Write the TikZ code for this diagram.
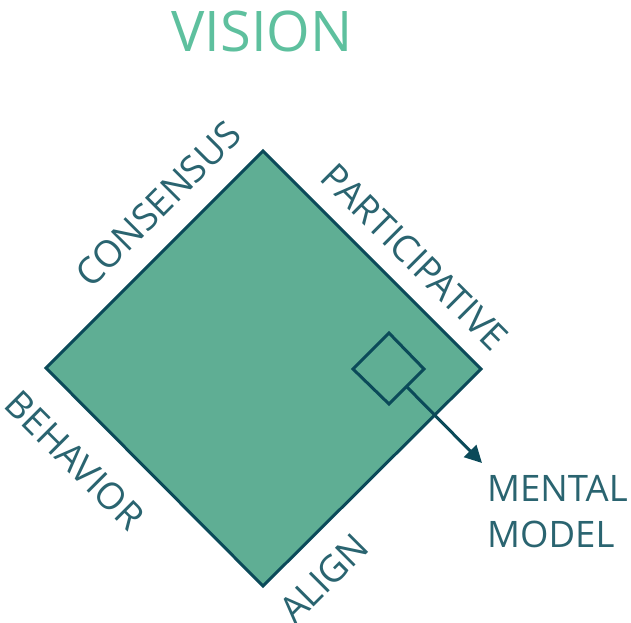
\documentclass[tikz,border=0pt]{standalone}
\usepackage{fontspec}
\setmainfont{Open Sans}
\usetikzlibrary{arrows.meta,calc}
\definecolor{fillgreen}{HTML}{5FAE94}
\definecolor{stroke}{HTML}{0B4A59}
\definecolor{txt}{HTML}{2A6470}
\definecolor{vis}{HTML}{5EC09E}
\tikzset{
  lbl/.style={text=txt, font=\fontsize{37}{40}\selectfont, inner sep=0pt, text depth=0pt},
  edge/.style={draw=stroke, line width=3pt, line join=miter}
}
\begin{document}
\begin{tikzpicture}[x=1pt,y=-1pt]
\useasboundingbox (0,0) rectangle (631,622);
\coordinate (T) at (263,151);
\coordinate (R) at (481,369);
\coordinate (B) at (263,586);
\coordinate (L) at (46,368);
\filldraw[edge, fill=fillgreen] (T) -- (R) -- (B) -- (L) -- cycle;
\coordinate (t) at (389,333);
\coordinate (r) at (424,369);
\coordinate (b) at (389,404);
\coordinate (l) at (353,369);
\draw[edge] (t) -- (r) -- (b) -- (l) -- cycle;
\coordinate (s) at ($(r)!0.5!(b)$);
\node[lbl, anchor=north west, align=left, font=\fontsize{36.5}{46}\selectfont] (mm) at (487,475) {MENTAL\\MODEL};
\coordinate (tip) at (482,463);
\draw[draw=stroke, line width=3pt, -{Triangle[length=17pt,width=17pt]}] (s) -- (tip);
\node[text=vis, font=\fontsize{56}{60}\selectfont, inner sep=0pt] (vision) at (262,31) {VISION};
\node[lbl, rotate=45] (cons) at (158,204) {CONSENSUS};
\node[lbl, rotate=-45] (part) at (415,257) {PARTICIPATIVE};
\node[lbl, rotate=-45] (beh) at (75,460) {BEHAVIOR};
\node[lbl, rotate=45] (align) at (324,578) {ALIGN};
\end{tikzpicture}
\end{document}
